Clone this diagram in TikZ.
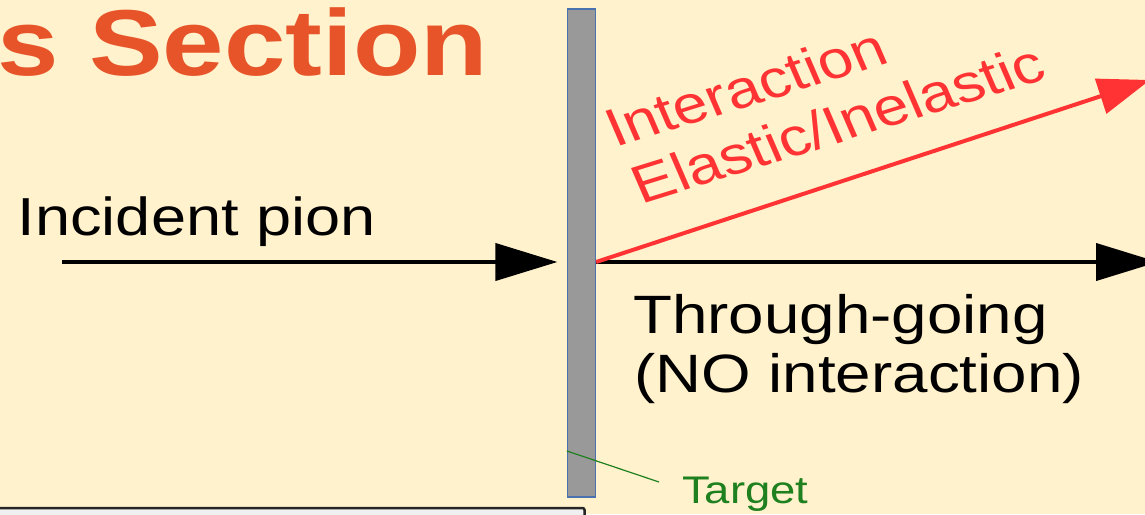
\documentclass[tikz,border=0pt]{standalone}
\usepackage{fontspec}
\usetikzlibrary{arrows.meta}
\setmainfont{Liberation Sans}[FakeStretch=1.18]
\newfontfamily\titlefont{Liberation Sans}[FakeStretch=1.18]
\newfontfamily\plainfont{Liberation Sans}

\definecolor{paper}{RGB}{255,242,204}
\definecolor{titleorange}{RGB}{232,84,42}
\definecolor{hitred}{RGB}{255,51,51}
\definecolor{slabgray}{RGB}{153,153,153}
\definecolor{slabedge}{RGB}{74,114,176}
\definecolor{labelgreen}{RGB}{30,128,30}

\tikzset{
  beam/.style={line width=4pt, draw=black, -{Triangle[length=62pt,width=37pt]}},
  hitbeam/.style={line width=4pt, draw=hitred, -{Triangle[length=52pt,width=36pt]}},
  plaintext/.style={inner sep=0pt, anchor=base west, text=black,
    font=\fontsize{54}{59}\selectfont},
  hittext/.style={inner sep=0pt, anchor=base west, text=hitred, transform shape,
    font=\plainfont\fontsize{53.3}{57}\selectfont},
  slab/.style={draw=slabedge, fill=slabgray, line width=1.2pt,
    minimum width=28pt, minimum height=488pt, inner sep=0pt},
}

\begin{document}
\begin{tikzpicture}[x=1pt, y=-1pt]
\useasboundingbox (0,0) rectangle (1145,514);
\clip (0,0) rectangle (1145,514);
\fill[paper] (0,0) rectangle (1145,514);

% heading
\node[inner sep=0pt, anchor=base east, text=titleorange,
  font=\titlefont\bfseries\fontsize{93.6}{100}\selectfont] (heading) at (488.5,75) {s Section};

% target slab
\node[slab] (target) at (581.5,253) {};

% beam geometry
\coordinate (src) at (62,262);
\coordinate (thruend) at (1158,262);
\coordinate (hitend) at (1150,80);

% incoming beam
\node[plaintext, font=\fontsize{53.5}{59}\selectfont] (incident) at (17.5,235) {Incident pion};
\draw[beam, shorten >=9.5pt] (src) -- (src -| target.west);

% unscattered beam
\draw[beam] (src -| target.east) -- (thruend);
\node[plaintext] (thru1) at (633,333) {Through-going};
\node[plaintext] (thru2) at (634,392) {(NO interaction)};

% scattered beam
\draw[hitbeam] (src -| target.east) -- (hitend);
\begin{scope}[shift={(615,148)}, xscale=1.18, rotate=20.1]
  \node[hittext] (hit1) at (0,0) {Interaction};
  \node[hittext] (hit2) at (2,60.5) {Elastic/Inelastic};
\end{scope}

% target label with leader
\node[inner sep=0pt, anchor=base west, text=labelgreen,
  font=\fontsize{38.5}{42}\selectfont] (tlabel) at (682,503) {Target};
\coordinate (leadA) at (568,451);
\coordinate (leadB) at (659,482);
\draw[labelgreen, line width=1.2pt] (target.west |- leadA) -- (leadB);

% box along the lower edge
\draw[fill=white!94!black, draw=black!85, line width=2.5pt, rounded corners=2pt]
  (-10,508) rectangle (584.5,540);
\end{tikzpicture}
\end{document}
